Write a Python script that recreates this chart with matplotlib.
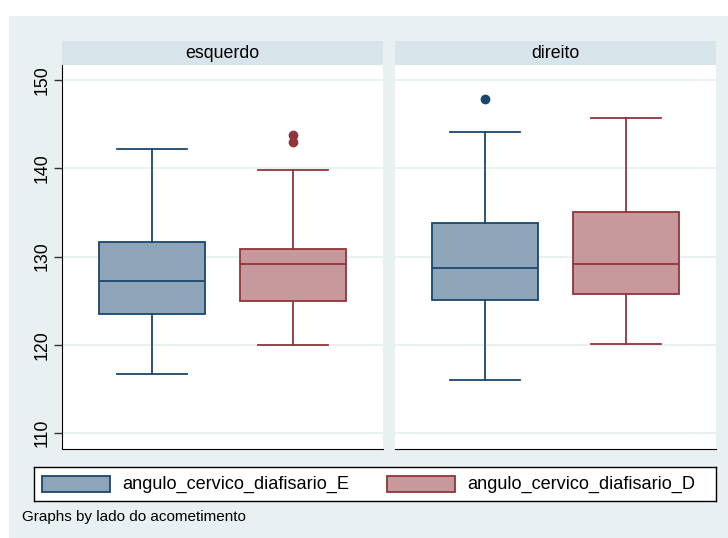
import matplotlib
matplotlib.use("Agg")
import matplotlib.pyplot as plt
from matplotlib.patches import Rectangle

plt.rcParams["font.family"] = ["Liberation Sans", "DejaVu Sans"]

# Box plot summaries
panels = ["esquerdo", "direito"]
series = ["angulo_cervico_diafisario_E", "angulo_cervico_diafisario_D"]
whislo = [[116.7, 120.0], [116.0, 120.1]]
q1 = [[123.5, 125.0], [125.1, 125.8]]
med = [[127.2, 129.2], [128.7, 129.2]]
q3 = [[131.7, 130.9], [133.8, 135.0]]
whishi = [[142.2, 139.8], [144.1, 145.7]]
fliers = [[[], [143.0, 143.8]], [[147.9], []]]
yticks = [110, 120, 130, 140, 150]

edge_colors = ["#1a476f", "#90353b"]
fill_colors = ["#8da4b9", "#c8999c"]
bg = "#e9f0f2"
strip_bg = "#d7e4e9"
grid_c = "#e6eff1"

W, H = 728, 538
fig = plt.figure(figsize=(W / 100, H / 100), dpi=100)
fig.patch.set_facecolor("white")
fig.patches.append(Rectangle((9 / W, 0), 1 - 9 / W, (H - 16) / H,
                             transform=fig.transFigure, facecolor=bg,
                             edgecolor="none", zorder=-10))


def px_axes(x0, y0, x1, y1):
    return fig.add_axes([x0 / W, (H - y1) / H, (x1 - x0) / W, (y1 - y0) / H])


panel_x = [(62, 383), (395, 716)]
for p, name in enumerate(panels):
    x0, x1 = panel_x[p]
    # strip header
    sax = px_axes(x0, 41, x1, 65)
    sax.set_facecolor(strip_bg)
    sax.set_xticks([])
    sax.set_yticks([])
    for s in sax.spines.values():
        s.set_visible(False)
    sax.text(0.5, 0.5, name, ha="center", va="center", fontsize=12.8,
             transform=sax.transAxes)

    ax = px_axes(x0, 65, x1, 449)
    ax.set_facecolor("white")
    stats = []
    for i in range(2):
        stats.append(dict(whislo=whislo[p][i], q1=q1[p][i], med=med[p][i],
                          q3=q3[p][i], whishi=whishi[p][i],
                          fliers=fliers[p][i], label=series[i]))
    for i in range(2):
        ax.bxp([stats[i]], positions=[i + 1], widths=0.75, patch_artist=True,
               showfliers=True,
               boxprops=dict(facecolor=fill_colors[i], edgecolor=edge_colors[i], linewidth=1.3),
               medianprops=dict(color=edge_colors[i], linewidth=1.3),
               whiskerprops=dict(color=edge_colors[i], linewidth=1.3),
               capprops=dict(color=edge_colors[i], linewidth=1.3),
               capwidths=0.5,
               flierprops=dict(marker="o", markerfacecolor=edge_colors[i],
                               markeredgecolor=edge_colors[i], markersize=6))
    ax.set_xlim(0.362, 2.638)
    ax.set_ylim(108.2, 151.7)
    ax.set_yticks(yticks)
    ax.set_xticks([])
    for y in yticks:
        ax.axhline(y, color=grid_c, linewidth=1.2, zorder=0)
    ax.spines["top"].set_visible(False)
    ax.spines["right"].set_visible(False)
    ax.spines["bottom"].set_color("black")
    if p == 0:
        ax.spines["left"].set_color("black")
        ax.tick_params(axis="y", length=6, width=1, color="#333333", pad=2,
                       labelsize=12.8, labelrotation=90)
        for lab in ax.get_yticklabels():
            lab.set_va("center")
    else:
        ax.spines["left"].set_visible(False)
        ax.tick_params(axis="y", length=0, labelleft=False)

# legend box
lax = px_axes(34, 467, 716, 501)
lax.set_xlim(34, 716)
lax.set_ylim(501, 467)
lax.set_facecolor("white")
lax.set_xticks([])
lax.set_yticks([])
for s in lax.spines.values():
    s.set_color("black")
    s.set_linewidth(1)
patch_x = [42, 387]
text_x = [122, 467]
for i in range(2):
    lax.add_patch(Rectangle((patch_x[i], 476), 68, 16, facecolor=fill_colors[i],
                            edgecolor=edge_colors[i], linewidth=1.3))
    lax.text(text_x[i], 484.5, series[i], ha="left", va="center", fontsize=13.1)

fig.text(22 / W, (H - 517) / H, "Graphs by lado do acometimento",
         ha="left", va="center", fontsize=11)

fig.savefig("out.png", dpi=100)
